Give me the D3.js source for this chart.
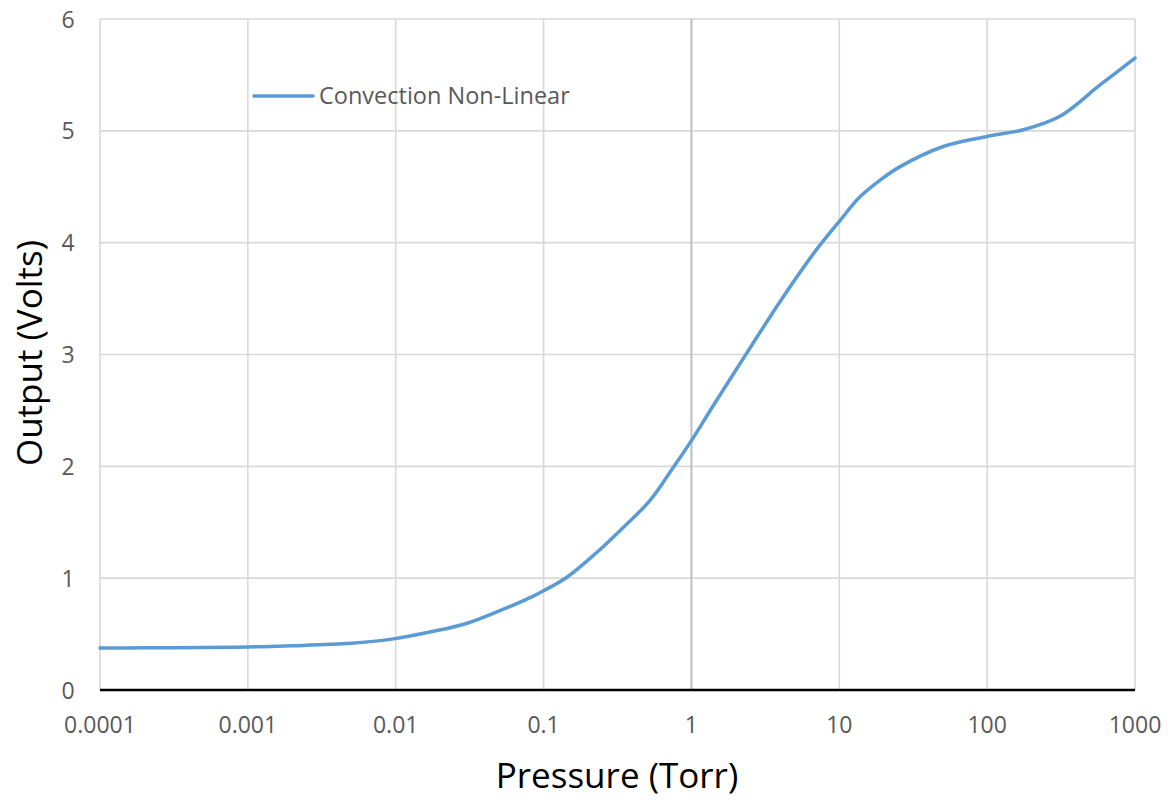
<!DOCTYPE html>
<html>
<head>
<meta charset="utf-8">
<script src="https://cdn.jsdelivr.net/npm/d3@7"></script>
<style>
  html, body { margin: 0; padding: 0; background: #fff; }
  svg { display: block; font-family: "Open Sans", sans-serif; }
</style>
</head>
<body>
<svg id="chart" width="1176" height="803"></svg>
<script>
// Data
const pressure = [0.0001, 0.0002, 0.0005, 0.001, 0.002, 0.005, 0.0094, 0.018, 0.030, 0.0507, 0.0853, 0.1, 0.143, 0.229, 0.35, 0.525, 0.753, 1, 1.4, 2.36, 3.96, 6.67, 10, 13.8, 18.9, 25.8, 50.5, 100, 176, 311, 580, 1000];
const output   = [0.375, 0.377, 0.38, 0.385, 0.395, 0.417, 0.455, 0.525, 0.595, 0.71, 0.84, 0.887, 1.006, 1.23, 1.46, 1.695, 1.99, 2.23, 2.54, 3.01, 3.47, 3.90, 4.19, 4.41, 4.56, 4.68, 4.86, 4.95, 5.01, 5.13, 5.41, 5.65];
const xTicks = [0.0001, 0.001, 0.01, 0.1, 1, 10, 100, 1000];
const xTickLabels = ["0.0001", "0.001", "0.01", "0.1", "1", "10", "100", "1000"];
const yTicks = [0, 1, 2, 3, 4, 5, 6];
const seriesName = "Convection Non-Linear";

const svg = d3.select("#chart");
const plotLeft = 100, plotRight = 1135, plotTop = 19, plotBottom = 690;

const x = d3.scaleLog().domain([0.0001, 1000]).range([plotLeft, plotRight]);
const y = d3.scaleLinear().domain([0, 6]).range([plotBottom, plotTop]);

// horizontal gridlines
svg.append("g").selectAll("line").data(yTicks.filter(d => d > 0)).join("line")
  .attr("x1", plotLeft).attr("x2", plotRight)
  .attr("y1", d => y(d)).attr("y2", d => y(d))
  .attr("stroke", "#d9d9d9").attr("stroke-width", 1.6);

// vertical gridlines
svg.append("g").selectAll("line").data(xTicks).join("line")
  .attr("x1", d => x(d)).attr("x2", d => x(d))
  .attr("y1", plotTop).attr("y2", plotBottom)
  .attr("stroke", d => d === 1 ? "#bfbfbf" : "#d9d9d9")
  .attr("stroke-width", d => d === 1 ? 2 : 1.6);

// x axis line at y=0
svg.append("line")
  .attr("x1", plotLeft).attr("x2", plotRight)
  .attr("y1", y(0)).attr("y2", y(0))
  .attr("stroke", "#000").attr("stroke-width", 2.4);

// y tick labels
svg.append("g").selectAll("text").data(yTicks).join("text")
  .attr("x", 68).attr("y", d => y(d) + 8.5)
  .attr("text-anchor", "middle")
  .attr("font-size", 23).attr("fill", "#595959")
  .text(d => d);

// x tick labels
svg.append("g").selectAll("text").data(xTicks).join("text")
  .attr("x", d => x(d)).attr("y", 733)
  .attr("text-anchor", "middle")
  .attr("font-size", 23).attr("fill", "#595959")
  .text((d, i) => xTickLabels[i]);

// axis titles
svg.append("text")
  .attr("x", 617).attr("y", 788)
  .attr("text-anchor", "middle")
  .attr("font-size", 35).attr("fill", "#000")
  .text("Pressure (Torr)");

svg.append("text")
  .attr("transform", "translate(42,353) rotate(-90)")
  .attr("text-anchor", "middle")
  .attr("font-size", 35).attr("fill", "#000")
  .text("Output (Volts)");

// data line
const line = d3.line()
  .x((d, i) => x(pressure[i]))
  .y(d => y(d))
  .curve(d3.curveCatmullRom.alpha(0.5));

svg.append("path")
  .datum(output)
  .attr("d", line)
  .attr("fill", "none")
  .attr("stroke", "#5b9bd5")
  .attr("stroke-width", 3.5)
  .attr("stroke-linecap", "round");

// legend
svg.append("line")
  .attr("x1", 254).attr("x2", 313).attr("y1", 96).attr("y2", 96)
  .attr("stroke", "#5b9bd5").attr("stroke-width", 3.5).attr("stroke-linecap", "round");
svg.append("text")
  .attr("x", 319).attr("y", 103.5)
  .attr("font-size", 23.5).attr("fill", "#595959")
  .text(seriesName);
</script>
</body>
</html>
